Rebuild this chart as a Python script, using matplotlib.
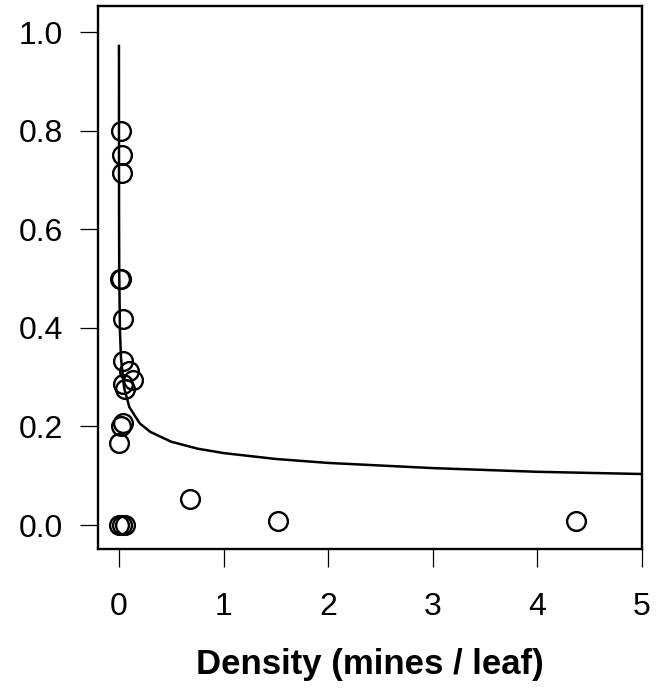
import matplotlib
matplotlib.use("Agg")
import matplotlib.pyplot as plt

# observed points (density, proportion)
density = [0.016, 0.026, 0.026, 0.012, 0.022, 0.041, 0.041, 0.098, 0.131,
           0.041, 0.054, 0.035, 0.016, 0.003, 0.003, 0.029, 0.054,
           0.68, 1.52, 4.37]
prop = [0.800, 0.750, 0.714, 0.500, 0.500, 0.417, 0.333, 0.313, 0.295,
        0.286, 0.275, 0.208, 0.200, 0.167, 0.0, 0.0, 0.0,
        0.053, 0.008, 0.008]

# fitted curve
curve_x = [0.00014, 0.001, 0.003, 0.01, 0.02, 0.05, 0.1, 0.2, 0.3, 0.5,
           0.75, 1, 1.5, 2, 3, 4, 5]
curve_y = [0.972, 0.643, 0.508, 0.392, 0.338, 0.278, 0.239, 0.206, 0.189,
           0.169, 0.155, 0.146, 0.134, 0.126, 0.1155, 0.108, 0.1035]

xticks = [0, 1, 2, 3, 4, 5]
yticks = [0.0, 0.2, 0.4, 0.6, 0.8, 1.0]

plt.rcParams['font.family'] = ['Liberation Sans', 'DejaVu Sans']

fig = plt.figure(figsize=(6.69, 6.92), dpi=100)
ax = fig.add_axes([0.1465, 0.2066, 0.8131, 0.7847])

ax.plot(curve_x, curve_y, color='black', lw=1.8)
ax.plot(density, prop, 'o', ms=13.5, mfc='none', mec='black', mew=1.7)

ax.set_xlim(-0.2, 5)
ax.set_ylim(-0.0487, 1.053)
ax.set_xticks(xticks)
ax.set_xticklabels([str(t) for t in xticks])
ax.set_yticks(yticks)
ax.set_yticklabels(['%.1f' % t for t in yticks])

for s in ax.spines.values():
    s.set_linewidth(1.7)
ax.tick_params(direction='out', length=13, width=0.9, labelsize=23)
ax.tick_params(axis='y', pad=12)
ax.tick_params(axis='x', pad=18)

ax.set_xlabel('Density (mines / leaf)', fontsize=25, fontweight='bold', labelpad=19)

fig.savefig('out.png', dpi=100)
